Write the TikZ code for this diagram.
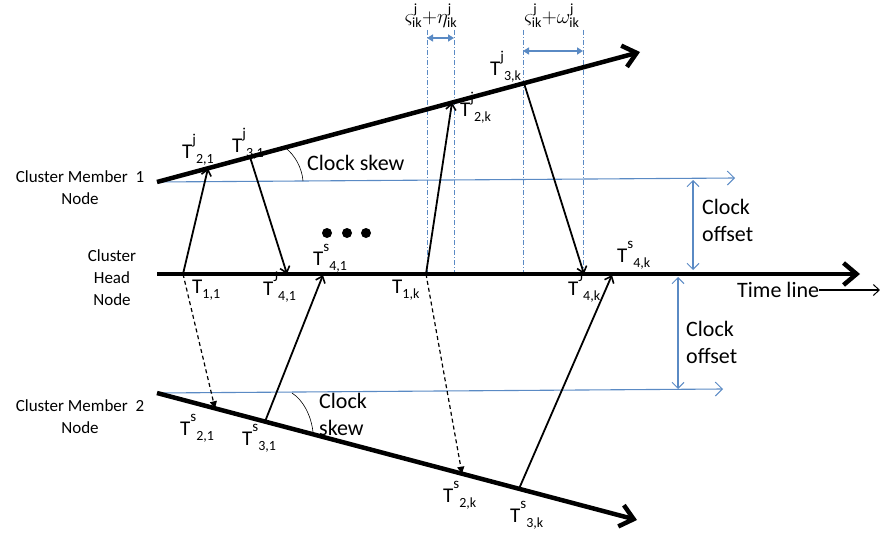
\documentclass[tikz,border=0pt]{standalone}
\usepackage{fontspec}
\setmainfont{Carlito}
\usetikzlibrary{arrows.meta}
\definecolor{cblue}{RGB}{90,138,196}
\newcommand\TLab[3]{\fontsize{21}{21}\selectfont T\raisebox{14pt}{\fontsize{15}{15}\selectfont #1}\raisebox{-5pt}{\fontsize{14}{14}\selectfont #2#3}}
\begin{document}
\begin{tikzpicture}[x=1pt,y=-1pt,
  axis/.style={line width=4.5pt,-{Straight Barb[length=13pt,width=22pt,line width=4.5pt]}},
  msg/.style={line width=1.8pt,-{Straight Barb[length=6pt,width=10pt,line width=1.6pt]}},
  dmsg/.style={line width=1.2pt,dash pattern=on 4pt off 3pt,-{Triangle[length=7pt,width=7pt]}},
  ref/.style={cblue,line width=1.1pt,-{Straight Barb[length=7pt,width=14pt,line width=1pt]}},
  offs/.style={cblue,line width=1.1pt,{Straight Barb[length=6pt,width=12pt,line width=1pt]}-{Straight Barb[length=6pt,width=12pt,line width=1pt]}},
  gap/.style={cblue,line width=1.8pt,{Triangle[length=6pt,width=7pt]}-{Triangle[length=6pt,width=7pt]}},
  guide/.style={cblue,line width=0.8pt,dash pattern=on 5pt off 2pt on 1pt off 2pt},
  tl/.style={anchor=base west,inner sep=0pt},
  big/.style={font=\fontsize{22}{27}\selectfont,inner sep=0pt},
  who/.style={font=\fontsize{17}{22}\selectfont,align=center,inner sep=0pt},
  mlab/.style={font=\fontsize{20}{20}\selectfont,inner sep=0pt}]
\useasboundingbox (0,0) rectangle (880,535);

% time lines
\coordinate (m1s) at (157,182); \coordinate (m1e) at (640,52);
\coordinate (hs) at (157,274);  \coordinate (he) at (860,274);
\coordinate (m2s) at (157,393); \coordinate (m2e) at (637,520);
\coordinate (r1e) at (735,178); \coordinate (r2e) at (723,389);

% guides
\coordinate (g1t) at (427,30); \coordinate (g1b) at (427,274);
\coordinate (g2t) at (454,30); \coordinate (g2b) at (454,274);
\coordinate (g3t) at (523,30); \coordinate (g3b) at (523,274);
\coordinate (g4t) at (583,30); \coordinate (g4b) at (583,274);
\draw[guide] (g1t) -- (g1b);
\draw[guide] (g2t) -- (g2b);
\draw[guide] (g3t) -- (g3b);
\draw[guide] (g4t) -- (g4b);
\coordinate (e1l) at (427,38); \coordinate (e1r) at (454,38);
\coordinate (w1l) at (523,51); \coordinate (w1r) at (583,51);
\draw[gap] (e1l) -- (e1r);
\draw[gap] (w1l) -- (w1r);
\node[mlab] (lab1) at (431,16) {$\varsigma^{\mathrm{j}}_{\mathrm{ik}}{+}\eta^{\mathrm{j}}_{\mathrm{ik}}$};
\node[mlab] (lab2) at (552,16) {$\varsigma^{\mathrm{j}}_{\mathrm{ik}}{+}\omega^{\mathrm{j}}_{\mathrm{ik}}$};

% reference (blue) lines
\draw[ref] (m1s) -- (r1e);
\draw[ref] (m2s) -- (r2e);

\draw[axis] (m1s) -- (m1e);
\draw[axis] (hs) -- (he);
\draw[axis] (m2s) -- (m2e);

% events
\coordinate (h11) at (183,274);
\coordinate (j21) at (208,168.3);
\coordinate (j31) at (250,157);
\coordinate (j41) at (287,274);
\coordinate (s21) at (215,408.3);
\coordinate (s31) at (265,421.6);
\coordinate (s41) at (323,275);
\coordinate (h1k) at (426,274);
\coordinate (j2k) at (452,102.6);
\coordinate (j3k) at (524,83.2);
\coordinate (j4k) at (584,274);
\coordinate (s2k) at (462,473.7);
\coordinate (s3k) at (519,488.8);
\coordinate (s4k) at (612,275);

\draw[msg] (h11) -- (j21);
\draw[msg] (j31) -- (j41);
\draw[dmsg] (h11) -- (s21);
\draw[msg] (s31) -- (s41);
\draw[msg] (h1k) -- (j2k);
\draw[msg] (j3k) -- (j4k);
\draw[dmsg] (h1k) -- (s2k);
\draw[msg] (s3k) -- (s4k);

% dots
\fill (327,233) circle (5) (347,233) circle (5) (366,233) circle (5);

% clock skew arcs
\coordinate (a1s) at (285,147.5); \coordinate (a1e) at (303,181);
\draw[line width=0.6pt] (a1s) .. controls (295,155) and (302,168) .. (a1e);
\coordinate (a2s) at (292,393); \coordinate (a2e) at (313,432);
\draw[line width=0.6pt] (a2s) .. controls (303,400) and (311,415) .. (a2e);
\node[big,anchor=base west] (sk1) at (307,170) {Clock skew};
\node[big,anchor=north west,align=left] (sk2) at (319,393) {Clock\\skew};

% offsets
\coordinate (o1t) at (693,180); \coordinate (o1b) at (693,270);
\coordinate (o2t) at (678,277); \coordinate (o2b) at (678,389);
\draw[offs] (o1t) -- (o1b);
\draw[offs] (o2t) -- (o2b);
\node[big,anchor=north west,align=left] (of1) at (702,199) {Clock\\offset};
\node[big,anchor=north west,align=left] (of2) at (686,321) {Clock\\offset};

% time line label
\node[big,anchor=base west] (tline) at (737,297) {Time line};
\coordinate (tle) at (880,290);
\draw[line width=1.1pt,-{Straight Barb[length=6pt,width=11pt,line width=1pt]}] (tline.east |- tle) -- (tle);

% node labels
\node[who,anchor=north] (cm1) at (80,170) {Cluster Member\ \ 1\\Node};
\node[who,anchor=north] (ch) at (112,249) {Cluster\\Head\\Node};
\node[who,anchor=north] (cm2) at (80,399) {Cluster Member\ \ 2\\Node};

% T labels
\node[tl] at (182,158) {\TLab{j}{2,1}{}};
\node[tl] at (232,152) {\TLab{j}{3,1}{}};
\node[tl] at (490,75) {\TLab{j}{3,k}{}};
\node[tl] at (460,116) {\TLab{j}{2,k}{}};
\node[tl] at (313,265) {\TLab{s}{4,1}{}};
\node[tl] at (192,293) {\TLab{}{1,1}{}};
\node[tl] at (263,295) {\TLab{J}{4,1}{}};
\node[tl] at (392,293) {\TLab{}{1,k}{}};
\node[tl] at (568,295) {\TLab{J}{4,k}{}};
\node[tl] at (617,262) {\TLab{s}{4,k}{}};
\node[tl] at (180,435) {\TLab{s}{2,1}{}};
\node[tl] at (242,445) {\TLab{s}{3,1}{}};
\node[tl] at (443,502) {\TLab{s}{2,k}{}};
\node[tl] at (510,522) {\TLab{s}{3,k}{}};
\end{tikzpicture}
\end{document}
